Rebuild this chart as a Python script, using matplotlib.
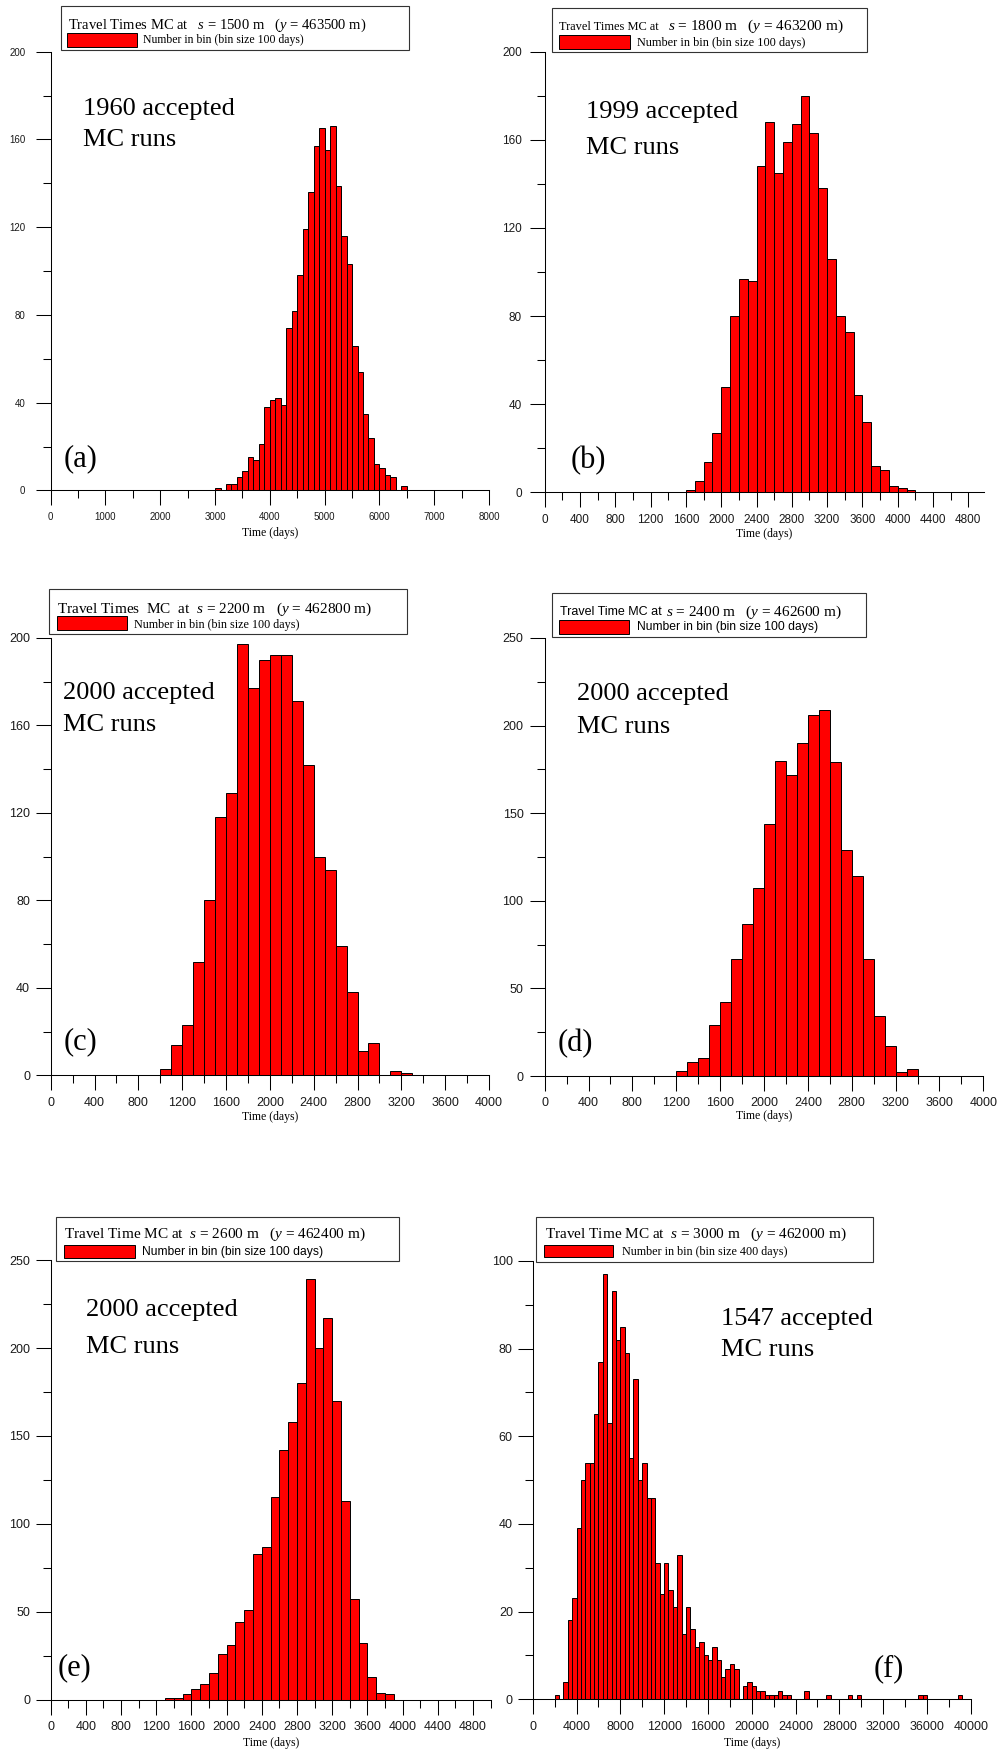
import matplotlib.pyplot as plt
from matplotlib.patches import Rectangle
from matplotlib.ticker import MultipleLocator
import numpy as np

W, H = 998, 1751

# counts per bin
a_start, a_bin = 3000, 100
a_counts = [1, 0, 3, 3, 6, 9, 15, 14, 21, 38, 41, 42, 39, 74, 82, 98, 119, 136,
            157, 165, 155, 166, 139, 116, 103, 66, 54, 35, 24, 12, 10, 7, 6, 0, 2]

b_start, b_bin = 1600, 100
b_counts = [1, 5, 14, 27, 48, 80, 97, 96, 148, 168, 145, 159, 167, 180, 163,
            138, 106, 80, 73, 44, 32, 12, 10, 3, 2, 1]

c_start, c_bin = 1000, 100
c_counts = [3, 14, 23, 52, 80, 118, 129, 197, 177, 190, 192, 192, 171, 142,
            100, 94, 59, 38, 11, 15, 0, 2, 1]

d_start, d_bin = 1200, 100
d_counts = [3, 8, 10, 29, 42, 67, 87, 107, 144, 180, 172, 190, 206, 209, 179,
            129, 114, 67, 34, 17, 2, 4]

e_start, e_bin = 1300, 100
e_counts = [1, 1, 3, 6, 9, 15, 26, 31, 44, 51, 83, 87, 115, 142, 158, 180, 239,
            200, 217, 170, 113, 57, 32, 13, 4, 3]

f_start, f_bin = 2000, 400
f_counts = [1, 0, 4, 18, 23, 39, 50, 54, 54, 65, 77, 97, 63, 93, 82, 85, 79, 55,
            73, 50, 54, 46, 46, 31, 24, 31, 25, 21, 33, 15, 21, 16, 12, 13, 10, 9,
            12, 9, 5, 7, 8, 7, 0, 3, 4, 3, 2, 2, 1, 1, 1, 2, 1, 1, 0, 0, 0, 2, 0,
            0, 0, 0, 1, 0, 0, 0, 0, 1, 0, 1, 0, 0, 0, 0, 0, 0, 0, 0, 0, 0, 0, 0,
            0, 1, 1, 0, 0, 0, 0, 0, 0, 0, 1]

n_runs = ["1960", "1999", "2000", "2000", "2000", "1547"]
letters = ["(a)", "(b)", "(c)", "(d)", "(e)", "(f)"]

SERIF = 'Liberation Serif'
SANS = 'Liberation Sans'
plt.rcParams['font.family'] = SANS
plt.rcParams['mathtext.fontset'] = 'custom'
plt.rcParams['mathtext.rm'] = SERIF
plt.rcParams['mathtext.it'] = SERIF + ':italic'


def fx(x):
    return x / W


def fy(y):
    return 1 - y / H


panels = [
    dict(start=a_start, bin=a_bin, counts=a_counts, box=(50.7, 51.7, 489, 490.4),
         xlim=8000, xmaj=1000, ylim=200, ymaj=40, lsize=7, ypad=7.5, xlab=533,
         ann=(82.7, 115.4, 146.4), let=(63.3, 459)),
    dict(start=b_start, bin=b_bin, counts=b_counts, box=(544.7, 51.7, 984.2, 492.4),
         xlim=4980, xmaj=400, ylim=200, ymaj=40, lsize=8.5, ypad=5.5, xlab=534,
         ann=(586, 118, 154), let=(570.7, 460.5)),
    dict(start=c_start, bin=c_bin, counts=c_counts, box=(50.7, 637.9, 489, 1075.4),
         xlim=4000, xmaj=400, ylim=200, ymaj=40, lsize=9, ypad=4, xlab=1117,
         ann=(63.3, 698.6, 730.7), let=(63.3, 1042)),
    dict(start=d_start, bin=d_bin, counts=d_counts, box=(544.7, 637.9, 983.3, 1076),
         xlim=4000, xmaj=400, ylim=250, ymaj=50, lsize=9, ypad=4.5, xlab=1116,
         ann=(576.7, 700, 732.5), let=(557.3, 1044)),
    dict(start=e_start, bin=e_bin, counts=e_counts, box=(50.7, 1260.1, 490.6, 1699.7),
         xlim=5000, xmaj=400, ylim=250, ymaj=50, lsize=9, ypad=4, xlab=1742.6,
         ann=(86, 1315.8, 1353), let=(57.3, 1668)),
    dict(start=f_start, bin=f_bin, counts=f_counts, box=(532.7, 1260.8, 970.7, 1699.3),
         xlim=40000, xmaj=4000, ylim=100, ymaj=20, lsize=9, ypad=3.5, xlab=1742.6,
         ann=(720.7, 1325, 1356), let=(873.3, 1669)),
]

# legend boxes: frame, red patch, title pieces, entry text (pixel positions)
legends = [
    dict(frame=(60.7, 5.7, 409, 50), patch=(67.3, 33.3, 136.7, 47.3),
         title=[(68.3, 393, 29.3, "Travel Times MC at   $s$ = 1500 m   ($y$ = 463500 m)", SERIF, 10.5)],
         entry=(143, 366.7, 43.5, "Number in bin (bin size 100 days)", SERIF, 8.5)),
    dict(frame=(551.7, 7.6, 867.3, 52.3), patch=(559.3, 35.5, 630, 49.2),
         title=[(559.3, 659.3, 30.3, "Travel Times MC at", SERIF, 11),
                (668, 855, 30.3, "$s$ = 1800 m   ($y$ = 463200 m)", SERIF, 11)],
         entry=(636.7, 804, 45.8, "Number in bin (bin size 100 days)", SERIF, 9)),
    dict(frame=(49.3, 589.3, 406.7, 633.6), patch=(56.7, 616.4, 126.7, 630.4),
         title=[(57.3, 390.7, 612.7, "Travel Times  MC  at  $s$ = 2200 m   ($y$ = 462800 m)", SERIF, 11)],
         entry=(134, 300.7, 627.9, "Number in bin (bin size 100 days)", SERIF, 9)),
    dict(frame=(552.3, 593.2, 866, 636.8), patch=(559.3, 620, 629.3, 633.6),
         title=[(560, 661.7, 615.4, "Travel Time MC at", SANS, 11),
                (665.7, 850, 615.4, "$s$ = 2400 m   ($y$ = 462600 m)", SERIF, 11)],
         entry=(636.7, 818.3, 630.4, "Number in bin (bin size 100 days)", SANS, 9)),
    dict(frame=(56, 1217, 399, 1261.2), patch=(64, 1244.5, 134.7, 1257.6),
         title=[(64.3, 383.3, 1238.3, "Travel Time MC at  $s$ = 2600 m   ($y$ = 462400 m)", SERIF, 11)],
         entry=(141.7, 323.3, 1254.7, "Number in bin (bin size 100 days)", SANS, 9)),
    dict(frame=(536, 1217, 873.3, 1262.3), patch=(544.3, 1244.5, 613.3, 1257.2),
         title=[(545, 859.3, 1238.3, "Travel Time MC at  $s$ = 3000 m   ($y$ = 462000 m)", SERIF, 11)],
         entry=(621.7, 787.3, 1254.7, "Number in bin (bin size 400 days)", SERIF, 9)),
]

fig = plt.figure(figsize=(W / 100, H / 100), dpi=100)
renderer = fig.canvas.get_renderer()


def fitted_text(x0, x1, base, s, family, maxsize):
    # place text on a baseline, scaled to span x0..x1 but no bigger than maxsize
    t = fig.text(fx(x0), fy(base), s, family=family, fontsize=10,
                 ha='left', va='baseline', zorder=7)
    w = t.get_window_extent(renderer).width
    t.set_fontsize(min(10 * (x1 - x0) / w, maxsize))
    return t


def fig_rect(x0, y0, x1, y1, **kw):
    r = Rectangle((fx(x0), fy(y1)), (x1 - x0) / W, (y1 - y0) / H,
                  transform=fig.transFigure, **kw)
    fig.add_artist(r)


for p, n, let in zip(panels, n_runs, letters):
    L, T, R, B = p['box']
    ax = fig.add_axes([fx(L), fy(B), (R - L) / W, (B - T) / H])
    counts = np.array(p['counts'])
    edges = p['start'] + p['bin'] * np.arange(len(counts))
    ax.bar(edges, counts, width=p['bin'], align='edge', color='#ff0000',
           edgecolor='black', linewidth=0.7)
    ax.set_xlim(0, p['xlim'])
    ax.set_ylim(0, p['ylim'])
    ax.patch.set_visible(False)
    for s in ['top', 'right']:
        ax.spines[s].set_visible(False)
    for s in ['left', 'bottom']:
        ax.spines[s].set_linewidth(0.75)
    ax.xaxis.set_major_locator(MultipleLocator(p['xmaj']))
    ax.xaxis.set_minor_locator(MultipleLocator(p['xmaj'] / 2))
    ax.yaxis.set_major_locator(MultipleLocator(p['ymaj']))
    ax.yaxis.set_minor_locator(MultipleLocator(p['ymaj'] / 2))
    ax.tick_params(which='major', length=10.8, width=0.75, labelsize=p['lsize'],
                   labelcolor='#1a1a1a')
    ax.tick_params(which='minor', length=5.5, width=0.75)
    ax.tick_params(axis='y', which='major', pad=p['ypad'])
    ax.tick_params(axis='x', which='major', pad=4.5)
    ax.set_xlabel('Time (days)', family=SERIF, fontsize=8.5, va='center')
    ax.xaxis.set_label_coords(0.5, -(p['xlab'] - B) / (B - T))

    x, b1, b2 = p['ann']
    fig.text(fx(x), fy(b1), f"{n} accepted", family=SERIF, fontsize=19,
             va='baseline', ha='left')
    fig.text(fx(x), fy(b2), "MC runs", family=SERIF, fontsize=19,
             va='baseline', ha='left')
    lx, ly = p['let']
    fig.text(fx(lx), fy(ly), let, family=SERIF, fontsize=22, va='center', ha='left')

for lg in legends:
    fig_rect(*lg['frame'], facecolor='white', edgecolor='#333333', linewidth=0.8, zorder=5)
    fig_rect(*lg['patch'], facecolor='#ff0000', edgecolor='black', linewidth=0.7, zorder=6)
    for piece in lg['title']:
        fitted_text(*piece)
    fitted_text(*lg['entry'])

fig.savefig('out.png', dpi=100)
